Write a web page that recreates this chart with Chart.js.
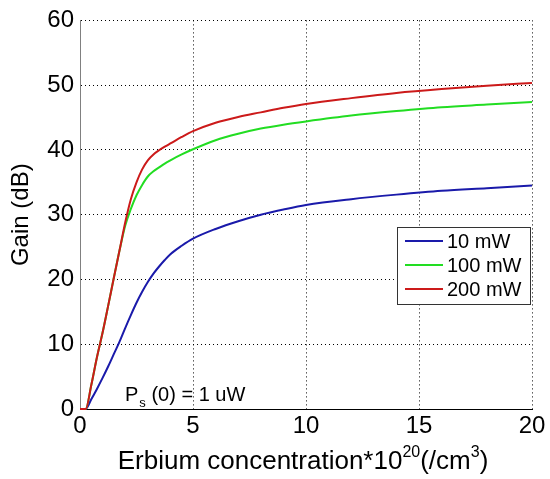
<!DOCTYPE html>
<html>
<head>
<meta charset="utf-8">
<script src="https://cdn.jsdelivr.net/npm/chart.js@4.4.0/dist/chart.umd.min.js"></script>
<style>
    html, body { margin: 0; padding: 0; background: #ffffff; }
    #wrap { width: 550px; height: 479px; }
</style>
</head>
<body>
<div id="wrap"><canvas id="gainChart" width="550" height="479"></canvas></div>
<script>
// Erbium concentration (x 10^20 /cm^3)
const concentration = [0, 0.25, 0.5, 0.75, 1, 1.25, 1.5, 1.75, 2, 2.25, 2.5, 2.75, 3, 3.25, 3.5, 3.75, 4, 4.5, 5, 6, 7, 8, 9, 10, 12, 14, 16, 18, 20];

// Gain (dB) for each pump power
const gain10mW  = [0, 0, 1.5, 3.1, 4.8, 6.6, 8.5, 10.4, 12.5, 14.5, 16.4, 18.1, 19.6, 20.9, 22.0, 23.0, 23.9, 25.2, 26.3, 27.8, 29.0, 30.0, 30.8, 31.5, 32.4, 33.1, 33.7, 34.1, 34.5];
const gain100mW = [0, 0, 3.7, 8, 11.8, 16, 20.3, 24.5, 28.3, 30.9, 33.0, 34.6, 35.9, 36.7, 37.3, 37.9, 38.4, 39.3, 40.1, 41.5, 42.5, 43.3, 43.9, 44.4, 45.3, 46.0, 46.6, 47.0, 47.4];
const gain200mW = [0, 0, 3.7, 8, 11.8, 16, 20.3, 24.5, 28.8, 32.4, 35.0, 37.0, 38.4, 39.3, 39.95, 40.5, 41.0, 42.0, 42.9, 44.2, 45.1, 45.8, 46.5, 47.1, 48.0, 48.8, 49.4, 49.9, 50.35];

const seriesLabels = ['10 mW', '100 mW', '200 mW'];
const seriesColors = ['#1a1aaa', '#22dd22', '#cc1a1a'];

const xTicks = [0, 5, 10, 15, 20];
const yTicks = [0, 10, 20, 30, 40, 50, 60];

const FONT = "'Liberation Sans', Arial, sans-serif";

function toPoints(ys) {
    return concentration.map((x, i) => ({ x: x, y: ys[i] }));
}

// Legend box drawn inside the plot, like the MATLAB one
const legendBox = {
    id: 'legendBox',
    afterDraw(chart) {
        const ctx = chart.ctx;
        ctx.save();
        ctx.fillStyle = '#ffffff';
        ctx.fillRect(397.5, 227.5, 133, 77);
        ctx.strokeStyle = '#333333';
        ctx.lineWidth = 1;
        ctx.strokeRect(397.5, 227.5, 133, 77);
        ctx.font = '20px ' + FONT;
        ctx.textBaseline = 'middle';
        ctx.textAlign = 'left';
        seriesLabels.forEach((label, i) => {
            const y = 241 + i * 24;
            ctx.strokeStyle = seriesColors[i];
            ctx.lineWidth = 2;
            ctx.beginPath();
            ctx.moveTo(405, y);
            ctx.lineTo(443, y);
            ctx.stroke();
            ctx.fillStyle = '#000000';
            ctx.fillText(label, 447, y + 1);
        });
        ctx.restore();
    }
};

// Texts with sub/superscripts: x title and the P_s(0) note
const richText = {
    id: 'richText',
    afterDraw(chart) {
        const ctx = chart.ctx;
        ctx.save();
        ctx.fillStyle = '#000000';
        ctx.textBaseline = 'alphabetic';
        ctx.textAlign = 'left';

        // x axis title
        const parts = [
            { t: 'Erbium concentration*10', size: 26, dy: 0 },
            { t: '20', size: 16, dy: -12 },
            { t: '(/cm', size: 26, dy: 0 },
            { t: '3', size: 16, dy: -12 },
            { t: ')', size: 26, dy: 0 }
        ];
        let total = 0;
        parts.forEach(p => {
            ctx.font = p.size + 'px ' + FONT;
            p.w = ctx.measureText(p.t).width;
            total += p.w;
        });
        const area = chart.chartArea;
        let x = (area.left + area.right) / 2 - total / 2 - 3;
        parts.forEach(p => {
            ctx.font = p.size + 'px ' + FONT;
            ctx.fillText(p.t, x, 469 + p.dy);
            x += p.w;
        });

        // P_s (0) = 1 uW
        ctx.font = '20px ' + FONT;
        ctx.fillText('P', 125, 401);
        let px = 125 + ctx.measureText('P').width;
        ctx.font = '13px ' + FONT;
        ctx.fillText('s', px + 1, 407);
        px += 1 + ctx.measureText('s').width;
        ctx.font = '20px ' + FONT;
        ctx.fillText(' (0) = 1 uW', px, 401);
        ctx.restore();
    }
};

new Chart(document.getElementById('gainChart'), {
    type: 'line',
    data: {
        datasets: [
            { label: seriesLabels[0], data: toPoints(gain10mW),  borderColor: seriesColors[0], order: 3 },
            { label: seriesLabels[1], data: toPoints(gain100mW), borderColor: seriesColors[1], order: 2 },
            { label: seriesLabels[2], data: toPoints(gain200mW), borderColor: seriesColors[2], order: 1 }
        ]
    },
    options: {
        responsive: false,
        animation: false,
        clip: 3,
        layout: { padding: { top: 18, right: 18, left: 0, bottom: 0 } },
        elements: {
            line: { borderWidth: 2, fill: false, cubicInterpolationMode: 'monotone' },
            point: { radius: 0, hoverRadius: 0 }
        },
        plugins: {
            legend: { display: false },
            tooltip: { enabled: false },
            title: { display: false }
        },
        scales: {
            x: {
                type: 'linear',
                min: xTicks[0],
                max: xTicks[xTicks.length - 1],
                afterFit(scale) { scale.height = 70; },
                afterBuildTicks(scale) { scale.ticks = xTicks.map(v => ({ value: v })); },
                ticks: { color: '#000000', font: { family: FONT, size: 24 }, padding: 3, maxRotation: 0 },
                grid: { color: '#000000', lineWidth: 1, drawTicks: false },
                border: { display: true, color: '#000000', width: 1, dash: [1, 3] }
            },
            y: {
                min: yTicks[0],
                max: yTicks[yTicks.length - 1],
                afterFit(scale) { scale.width = 80; },
                afterBuildTicks(scale) { scale.ticks = yTicks.map(v => ({ value: v })); },
                ticks: { color: '#000000', font: { family: FONT, size: 24 }, padding: 6 },
                grid: { color: '#000000', lineWidth: 1, drawTicks: false },
                border: { display: true, color: '#808080', width: 1, dash: [1, 3] },
                title: {
                    display: true,
                    text: 'Gain (dB)',
                    color: '#000000',
                    font: { family: FONT, size: 24 },
                    padding: { top: 7, bottom: 0 }
                }
            }
        }
    },
    plugins: [legendBox, richText]
});
</script>
</body>
</html>
